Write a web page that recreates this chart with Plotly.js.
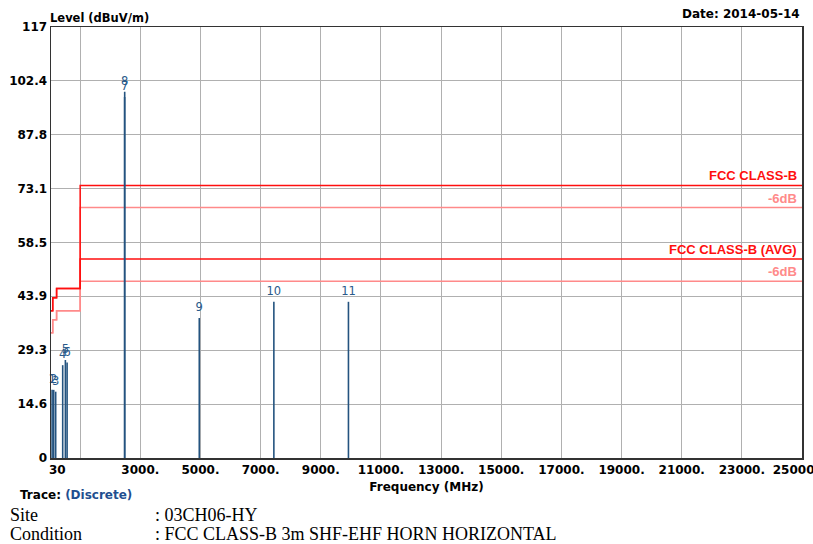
<!DOCTYPE html>
<html>
<head>
<meta charset="utf-8">
<script src="https://cdn.plot.ly/plotly-3.0.1.min.js"></script>
<style>
  html, body { margin: 0; padding: 0; background: #ffffff; }
  #chart { width: 813px; height: 544px; }
</style>
</head>
<body>
<div id="chart"></div>
<script>
// ---- data ----
const markerNo    = ["1", "2", "3", "4", "5", "6", "7", "8", "9", "10", "11"];
const markerFreq  = [67, 120, 186, 419, 508, 565, 2478, 2480, 4960, 7440, 9920];
const markerLevel = [18.5, 18.5, 18.0, 25.2, 26.6, 25.9, 98.0, 99.4, 38.0, 42.4, 42.4];

const limitFreq      = [30, 88, 216, 1000, 25000];
const limitPeak      = [40, 43.5, 46, 74, 74];
const limitPeak6dB   = [34, 37.5, 40, 68, 68];
const limitAvg       = [40, 43.5, 46, 54, 54];
const limitAvg6dB    = [34, 37.5, 40, 48, 48];

const yTickVals = [0, 14.6, 29.3, 43.9, 58.5, 73.1, 87.8, 102.4, 117];
const yTickText = ["0", "14.6", "29.3", "43.9", "58.5", "73.1", "87.8", "102.4", "117"];
const xTickVals = [30, 1000, 3000, 5000, 7000, 9000, 11000, 13000, 15000, 17000, 19000, 21000, 23000, 25000];
const xTickText = ["&nbsp;&nbsp;&nbsp;30", "", "3000.", "5000.", "7000.", "9000.", "11000.", "13000.", "15000.", "17000.", "19000.", "21000.", "23000.", "25000&nbsp;&nbsp;&nbsp;&nbsp;"];

const limitNames = ["FCC CLASS-B", "-6dB", "FCC CLASS-B (AVG)", "-6dB"];

// ---- build traces ----
const spikeX = [], spikeY = [];
markerFreq.forEach((f, i) => {
  spikeX.push(f, f, null);
  spikeY.push(0, markerLevel[i], null);
});

const dark = "#ff0f0f";
const light = "#ff8a8a";

const traces = [
  { x: limitFreq, y: limitPeak6dB, mode: "lines", line: { shape: "hv", color: light, width: 1.5 }, hoverinfo: "skip" },
  { x: limitFreq, y: limitAvg6dB,  mode: "lines", line: { shape: "hv", color: light, width: 1.5 }, hoverinfo: "skip" },
  { x: limitFreq, y: limitAvg,     mode: "lines", line: { shape: "hv", color: dark,  width: 1.5 }, hoverinfo: "skip" },
  { x: limitFreq, y: limitPeak,    mode: "lines", line: { shape: "hv", color: dark,  width: 1.5 }, hoverinfo: "skip" },
  { x: spikeX, y: spikeY, mode: "lines", line: { color: "#24537f", width: 1.6 }, hoverinfo: "skip" },
  { x: markerFreq, y: markerLevel, mode: "markers+text", text: markerNo, textposition: "top center",
    marker: { size: 5, color: "rgba(0,0,0,0)" },
    textfont: { family: "DejaVu Sans", size: 11.5, color: "#2a5a8a" }, cliponaxis: false, hoverinfo: "skip" }
];

const limitVals = [limitPeak[limitPeak.length - 1], limitPeak6dB[limitPeak6dB.length - 1],
                   limitAvg[limitAvg.length - 1], limitAvg6dB[limitAvg6dB.length - 1]];
const limitColors = [dark, light, dark, light];

const annotations = limitNames.map((n, i) => ({
  x: limitFreq[limitFreq.length - 1], y: limitVals[i], xref: "x", yref: "y",
  text: n, showarrow: false, xanchor: "right", yanchor: "bottom", xshift: -3, yshift: 0,
  font: { family: "Liberation Sans", size: 13, weight: "bold", color: limitColors[i] }
}));

annotations.push(
  { x: 0, y: 1, xref: "paper", yref: "paper", xanchor: "left", yanchor: "bottom", xshift: -3, yshift: 0,
    text: "Level (dBuV/m)", showarrow: false, font: { family: "DejaVu Sans", size: 11.5, weight: "bold", color: "#000" } },
  { x: 1, y: 1, xref: "paper", yref: "paper", xanchor: "right", yanchor: "bottom", xshift: 0, yshift: 4,
    text: "Date: 2014-05-14", showarrow: false, font: { family: "DejaVu Sans", size: 12, weight: "bold", color: "#000" } },
  { x: 0, y: 0, xref: "paper", yref: "paper", xanchor: "left", yanchor: "top", xshift: -33, yshift: -28,
    text: "Trace: <span style='color:#1f4f8f'>(Discrete)</span>", showarrow: false,
    font: { family: "DejaVu Sans", size: 12, weight: "bold", color: "#000" } },
  { x: 0, y: 0, xref: "paper", yref: "paper", xanchor: "left", yanchor: "top", xshift: -43, yshift: -45,
    text: "Site", showarrow: false, font: { family: "Liberation Serif", size: 18, color: "#000" } },
  { x: 0, y: 0, xref: "paper", yref: "paper", xanchor: "left", yanchor: "top", xshift: -43, yshift: -64,
    text: "Condition", showarrow: false, font: { family: "Liberation Serif", size: 18, color: "#000" } },
  { x: 0, y: 0, xref: "paper", yref: "paper", xanchor: "left", yanchor: "top", xshift: 102, yshift: -45,
    text: ": 03CH06-HY", showarrow: false, font: { family: "Liberation Serif", size: 18, color: "#000" } },
  { x: 0, y: 0, xref: "paper", yref: "paper", xanchor: "left", yanchor: "top", xshift: 102, yshift: -64,
    text: ": FCC CLASS-B 3m SHF-EHF HORN HORIZONTAL", showarrow: false, font: { family: "Liberation Serif", size: 18, color: "#000" } }
);

const layout = {
  width: 813, height: 544,
  margin: { l: 51, r: 11, t: 27, b: 86, pad: 0 },
  paper_bgcolor: "#ffffff", plot_bgcolor: "#ffffff",
  showlegend: false,
  font: { family: "DejaVu Sans", size: 12, color: "#000" },
  xaxis: {
    range: [30, 25000], tickmode: "array", tickvals: xTickVals, ticktext: xTickText,
    showgrid: true, gridcolor: "#b0b0b0", gridwidth: 1,
    showline: true, mirror: true, linecolor: "#333333", linewidth: 1.5,
    ticks: "", zeroline: false, ticklabeloverflow: "allow",
    tickfont: { family: "DejaVu Sans", size: 12, weight: "bold", color: "#000" },
    title: { text: "Frequency (MHz)", standoff: 6, font: { family: "DejaVu Sans", size: 12, weight: "bold", color: "#000" } }
  },
  yaxis: {
    range: [0, 117], tickmode: "array", tickvals: yTickVals, ticktext: yTickText,
    showgrid: true, gridcolor: "#b0b0b0", gridwidth: 1,
    showline: true, mirror: true, linecolor: "#333333", linewidth: 1.5,
    ticks: "", zeroline: false,
    tickfont: { family: "DejaVu Sans", size: 12, weight: "bold", color: "#000" }
  },
  annotations: annotations
};

Plotly.newPlot("chart", traces, layout, { staticPlot: true, displayModeBar: false });
</script>
</body>
</html>
